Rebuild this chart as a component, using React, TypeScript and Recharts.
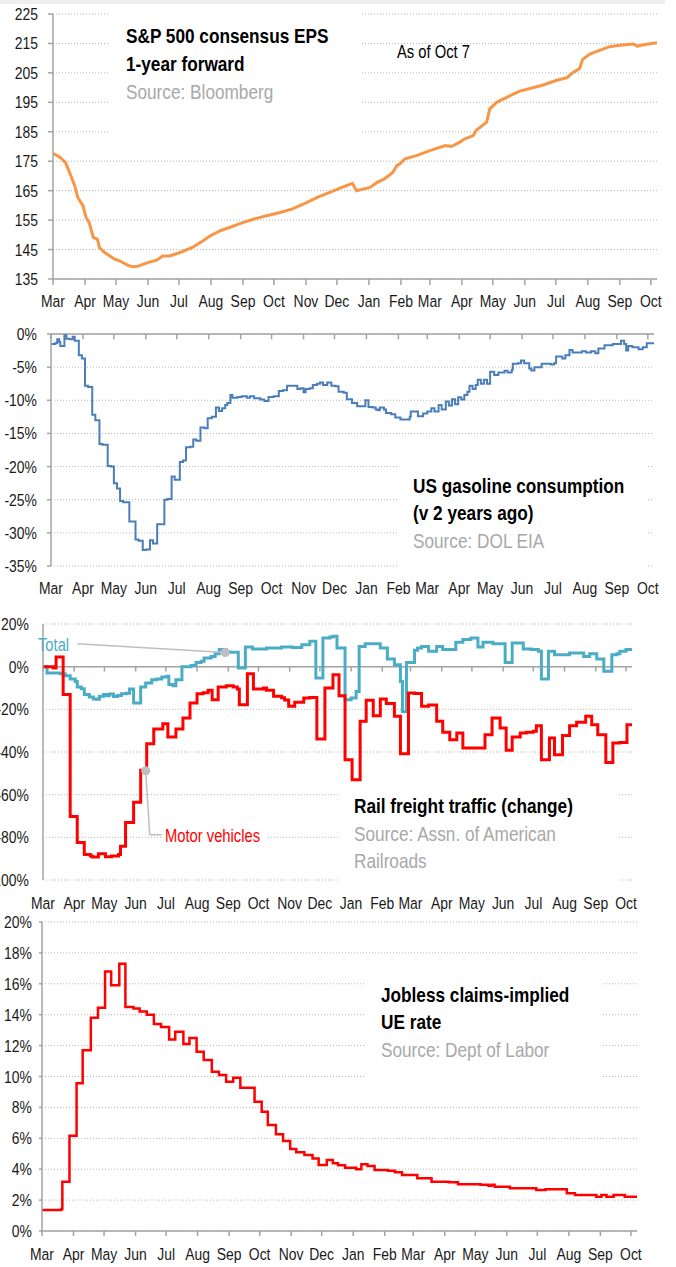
import React from 'react';
import { LineChart, Line, XAxis, YAxis, CartesianGrid, ReferenceLine, ReferenceDot } from 'recharts';

const FONT = "'Liberation Sans', Arial, sans-serif";
const SX = 0.82; // horizontal squeeze to mimic a narrow typeface
const AXIS = '#a3a3a3';
const GRID = '#b5b5b5';
const TXT = '#1a1a1a';
const SRC = '#a8a8a8';

// Month ticks: days since 1 Mar 2020
const monthTicks = [0, 31, 61, 92, 122, 153, 184, 214, 245, 275, 306, 337, 365, 396, 426, 457, 487, 518, 549, 579];
const monthLabels = ['Mar', 'Apr', 'May', 'Jun', 'Jul', 'Aug', 'Sep', 'Oct', 'Nov', 'Dec', 'Jan', 'Feb', 'Mar', 'Apr', 'May', 'Jun', 'Jul', 'Aug', 'Sep', 'Oct'];
const lastDay = 585;

// Panel 1: S&P 500 consensus EPS
const epsTicks = [135, 145, 155, 165, 175, 185, 195, 205, 215, 225];
const epsDays = [0, 7, 12, 16, 21, 24, 29, 32, 35, 39, 43, 45, 50, 55, 60, 65, 72, 77, 82, 91, 101, 106, 113, 123, 135, 145, 152, 162, 171, 181, 194, 207, 220, 232, 246, 256, 268, 278, 290, 294, 307, 314, 321, 329, 333, 336, 341, 352, 365, 380, 386, 394, 399, 407, 410, 420, 423, 430, 440, 452, 462, 474, 488, 498, 503, 510, 513, 520, 530, 539, 549, 562, 566, 575, 585];
const epsValues = [177.7, 176.3, 174.6, 171.2, 166.7, 162.7, 159.9, 155.9, 154.2, 149.1, 148.5, 145.7, 144.0, 142.8, 141.7, 141.1, 139.7, 139.2, 139.3, 140.5, 141.5, 142.8, 142.8, 144.0, 145.7, 147.9, 149.6, 151.4, 152.5, 153.8, 155.3, 156.5, 157.6, 158.8, 161.0, 162.7, 164.4, 165.9, 167.5, 165.0, 166.1, 167.8, 169.0, 171.2, 173.5, 174.1, 175.8, 176.9, 178.6, 180.3, 180.0, 181.5, 182.6, 183.7, 185.5, 188.3, 192.8, 195.1, 196.8, 198.8, 199.7, 200.8, 202.5, 203.4, 205.0, 206.5, 209.6, 211.4, 212.7, 213.9, 214.4, 214.8, 214.1, 214.7, 215.2];

// Panel 2: US gasoline consumption v 2 years ago (%)
const gasTicks = [-35, -30, -25, -20, -15, -10, -5, 0];
const gasDays = [0, 4, 6, 8, 9, 13, 15, 18, 21, 23, 27, 30, 33, 36, 40, 43, 47, 50, 55, 58, 61, 64, 67, 70, 76, 82, 85, 89, 92, 96, 99, 103, 110, 113, 117, 120, 125, 128, 131, 135, 138, 141, 145, 149, 152, 156, 160, 163, 166, 169, 171, 174, 176, 181, 185, 190, 193, 197, 203, 207, 211, 216, 221, 225, 229, 236, 239, 242, 245, 247, 251, 254, 258, 261, 264, 268, 272, 276, 279, 284, 287, 292, 297, 305, 308, 312, 315, 317, 319, 323, 325, 330, 334, 339, 348, 349, 356, 361, 365, 369, 372, 376, 379, 383, 386, 389, 392, 395, 398, 401, 404, 406, 409, 412, 414, 417, 420, 423, 426, 430, 434, 440, 443, 447, 448, 453, 456, 459, 464, 466, 469, 476, 485, 488, 490, 496, 499, 503, 506, 515, 519, 524, 528, 531, 537, 545, 553, 556, 558, 560, 564, 570, 574, 578, 585];
const gasValues = [-1.5, -1.4, -0.8, -1.2, -1.8, -0.2, -0.7, -0.8, -0.4, -1.0, -3.2, -3.7, -7.8, -8.0, -12.2, -13.0, -16.6, -16.7, -19.9, -20.0, -22.5, -23.3, -25.2, -25.4, -28.3, -31.0, -31.2, -32.6, -32.5, -31.1, -31.6, -28.7, -25.0, -24.9, -21.5, -22.0, -19.3, -19.1, -17.1, -17.0, -15.9, -16.1, -14.1, -14.2, -12.7, -12.5, -11.1, -11.6, -11.2, -10.7, -10.4, -9.2, -9.6, -9.5, -9.4, -9.6, -9.4, -9.7, -9.9, -10.1, -9.5, -9.4, -8.6, -8.5, -7.8, -7.8, -8.3, -8.2, -8.8, -8.3, -8.2, -7.7, -7.5, -7.3, -7.7, -7.3, -7.8, -7.9, -8.7, -8.85, -9.85, -10.4, -10.9, -10.0, -11.0, -11.1, -11.4, -11.5, -11.1, -11.4, -11.9, -12.1, -12.6, -12.9, -12.5, -11.7, -12.4, -12.0, -11.7, -11.2, -11.7, -10.7, -11.4, -10.2, -10.8, -9.85, -10.6, -9.55, -9.9, -9.2, -8.7, -7.8, -8.3, -7.7, -6.9, -7.5, -6.9, -7.5, -5.7, -6.2, -5.8, -5.55, -5.8, -5.4, -4.5, -4.4, -4.0, -4.4, -5.2, -5.5, -5.0, -4.5, -4.6, -4.4, -3.4, -3.7, -3.2, -2.4, -2.8, -2.6, -2.8, -2.6, -2.9, -2.2, -1.7, -1.5, -1.0, -1.5, -2.5, -1.8, -2.0, -2.3, -2.0, -1.4, -1.25];

// Panel 3: Rail freight traffic change (%)
const railTicks = [-100, -80, -60, -40, -20, 0, 20];
const totalDays = [0, 4, 17, 22, 27, 32, 34, 38, 41, 46, 50, 53, 56, 60, 63, 66, 70, 74, 78, 83, 86, 90, 97, 102, 108, 113, 118, 123, 125, 129, 132, 138, 147, 152, 157, 160, 167, 171, 175, 182, 185, 194, 201, 208, 222, 237, 248, 257, 265, 271, 278, 285, 288, 292, 300, 306, 311, 314, 320, 335, 342, 349, 355, 357, 361, 369, 372, 376, 383, 391, 397, 410, 417, 425, 432, 437, 447, 459, 466, 477, 485, 492, 495, 502, 508, 523, 537, 543, 550, 557, 565, 570, 573, 579, 585];
const totalValues = [0, -3.0, -3.3, -4.2, -5.8, -6.9, -9.5, -10.3, -13.1, -14.2, -15.2, -15.3, -13.9, -13.1, -13.6, -12.8, -14.0, -13.5, -12.7, -12.5, -10.5, -17.0, -9.5, -7.7, -6.1, -5.8, -4.8, -4.5, -8.4, -8.9, -6.1, 0, 0.5, 2.0, 2.5, 4.1, 4.8, 6.0, 8.0, 7.0, 6.7, -0.6, 9.2, 8.3, 8.7, 9.2, 9.0, 10.3, 11.9, -5.3, 13.4, 13.9, 14.2, 8.7, -15.5, -14.7, -11.6, 9.5, 10.8, 8.7, 3.6, 0.9, -6.9, -21.0, 2.0, 7.7, 8.7, 9.5, 7.2, 9.5, 8.0, 11.4, 12.7, 13.4, 9.2, 11.4, 10.8, 2.0, 11.1, 8.3, 8.0, 7.2, -5.8, 7.2, 5.6, 6.4, 4.8, 6.0, 3.6, -2.2, 5.6, 6.1, 7.2, 8.0, 8.0];
const motorDays = [0, 10, 13, 20, 27, 34, 41, 47, 49, 55, 62, 68, 75, 77, 82, 90, 97, 103, 110, 119, 124, 132, 139, 146, 153, 159, 164, 168, 174, 182, 189, 193, 195, 203, 209, 219, 222, 229, 237, 240, 244, 250, 259, 265, 272, 280, 288, 294, 300, 307, 315, 321, 328, 335, 341, 349, 355, 363, 369, 376, 383, 391, 397, 404, 411, 417, 439, 446, 454, 460, 466, 474, 480, 487, 490, 495, 503, 508, 516, 523, 530, 539, 545, 551, 559, 566, 573, 580, 585];
const motorValues = [0, -0.6, 4.5, -13.1, -70.2, -82.4, -88.1, -88.8, -89.2, -87.7, -89.1, -88.8, -88.1, -84.2, -73.0, -63.6, -48.6, -36.1, -29.2, -26.7, -33.0, -29.2, -24.1, -17.0, -12.7, -12.2, -11.1, -15.5, -9.5, -8.9, -9.5, -10.5, -17.8, -3.3, -10.5, -10.0, -11.1, -13.9, -14.6, -15.6, -18.6, -16.7, -14.7, -14.4, -33.9, -10.0, -3.8, -13.6, -43.6, -53.0, -25.6, -15.8, -23.0, -15.2, -17.3, -23.3, -40.8, -12.3, -12.6, -18.6, -18.0, -25.6, -30.8, -34.2, -31.1, -38.1, -31.9, -24.1, -28.7, -39.2, -33.0, -31.1, -30.8, -30.3, -27.7, -43.6, -33.4, -41.3, -32.3, -27.7, -26.1, -23.3, -27.2, -31.9, -44.9, -35.8, -35.5, -27.2, -27.2];

// Panel 4: Jobless claims-implied UE rate (%)
const ueTicks = [0, 2, 4, 6, 8, 10, 12, 14, 16, 18, 20];
const ueDays = [0, 19, 20, 27, 34, 40, 48, 55, 62, 68, 76, 82, 90, 96, 103, 110, 117, 125, 131, 139, 145, 152, 159, 167, 174, 181, 188, 195, 209, 216, 222, 230, 237, 244, 250, 258, 266, 272, 280, 286, 291, 298, 309, 314, 320, 327, 340, 347, 354, 369, 383, 400, 409, 431, 439, 442, 445, 460, 486, 495, 516, 524, 545, 550, 555, 562, 573, 585];
const ueValues = [1.36, 1.42, 3.19, 6.17, 9.56, 11.7, 13.8, 14.45, 16.8, 15.9, 17.3, 14.5, 14.4, 14.2, 14.0, 13.4, 13.2, 12.4, 12.9, 12.1, 12.5, 11.6, 11.07, 10.3, 10.1, 9.66, 9.92, 9.27, 8.37, 7.72, 6.86, 6.26, 5.83, 5.3, 5.09, 4.92, 4.7, 4.27, 4.6, 4.38, 4.25, 4.1, 4.0, 4.32, 4.2, 3.95, 3.9, 3.8, 3.62, 3.41, 3.19, 3.15, 3.02, 3.0, 2.93, 3.0, 2.87, 2.76, 2.65, 2.7, 2.44, 2.33, 2.22, 2.33, 2.22, 2.33, 2.22, 2.22];

const zip = (days: number[], vals: number[]) => days.map((d, i) => ({ day: d, v: vals[i] }));
const epsData = zip(epsDays, epsValues);
const gasData = zip(gasDays, gasValues);
const totalData = zip(totalDays, totalValues);
const motorData = zip(motorDays, motorValues);
const ueData = zip(ueDays, ueValues);

const fmtMonth = (v: number) => monthLabels[monthTicks.indexOf(v)] ?? '';
const fmtPct = (v: number) => `${v}%`;
const fmtPlain = (v: number) => `${v}`;
const axisLineStyle = { stroke: AXIS, strokeWidth: 1.5 };

function NarrowTick(props: any) {
  const { x, y, payload, textAnchor, verticalAnchor, fmt } = props;
  const dy = verticalAnchor === 'start' ? '0.71em' : verticalAnchor === 'end' ? '0' : '0.355em';
  return (
    <g transform={`translate(${x},${y}) scale(${SX},1)`}>
      <text textAnchor={textAnchor} dy={dy} fontSize={17} fontFamily={FONT} fill={TXT}>
        {fmt(payload.value)}
      </text>
    </g>
  );
}

const tickWith = (fmt: (v: number) => string) => (p: any) => <NarrowTick {...p} fmt={fmt} />;

function NText({ x, y, size = 21, bold = false, fill = '#000', children }: { x: number; y: number; size?: number; bold?: boolean; fill?: string; children: React.ReactNode }) {
  return (
    <text transform={`translate(${x},${y}) scale(${SX},1)`} fontSize={size} fontWeight={bold ? 'bold' : 'normal'} fill={fill} fontFamily={FONT}>
      {children}
    </text>
  );
}

const xCommon = {
  dataKey: 'day',
  type: 'number' as const,
  domain: [0, lastDay],
  ticks: monthTicks,
  interval: 0,
  tick: tickWith(fmtMonth),
  allowDataOverflow: true,
};

function Panel({ top, children }: { top: number; children: React.ReactNode }) {
  return <div style={{ position: 'absolute', left: 0, top }}>{children}</div>;
}

export default function App() {
  return (
    <div style={{ position: 'absolute', left: 0, top: 0, width: 676, height: 1267, background: '#fff', overflow: 'hidden', fontFamily: FONT }}>
      <div style={{ position: 'absolute', left: 0, top: 0, width: 665, height: 4, background: '#efefef' }} />

      {/* Panel 1 */}
      <Panel top={0}>
        <LineChart width={676} height={312} data={epsData} margin={{ top: 14, right: 19, bottom: 2, left: 0 }}>
          <CartesianGrid vertical={false} stroke={GRID} strokeDasharray="1 2" />
          <XAxis {...xCommon} height={31} tickSize={6} tickMargin={10} axisLine={axisLineStyle} tickLine={axisLineStyle} />
          <YAxis type="number" domain={[135, 225]} ticks={epsTicks} interval={0} width={53} tickSize={5} tickMargin={10} tick={tickWith(fmtPlain)} axisLine={axisLineStyle} tickLine={axisLineStyle} />
          <Line dataKey="v" type="linear" stroke="#F79646" strokeWidth={3} dot={false} isAnimationActive={false} />
        </LineChart>
      </Panel>

      {/* Panel 2 */}
      <Panel top={310}>
        <LineChart width={676} height={300} data={gasData} margin={{ top: 24, right: 22, bottom: 14, left: 0 }}>
          <CartesianGrid vertical={false} stroke={GRID} strokeDasharray="1 2" />
          <XAxis {...xCommon} height={30} tickSize={0} tickMargin={16} axisLine={false} tickLine={false} />
          <YAxis type="number" domain={[-35, 0]} ticks={gasTicks} interval={0} width={51} tickSize={4} tickMargin={10} tick={tickWith(fmtPct)} axisLine={axisLineStyle} tickLine={axisLineStyle} />
          <ReferenceLine y={0} stroke={AXIS} strokeWidth={1.5} />
          {monthTicks.map((t) => (
            <ReferenceLine key={t} segment={[{ x: t, y: 0 }, { x: t, y: -0.8 }]} stroke={AXIS} strokeWidth={1.5} />
          ))}
          <Line dataKey="v" type="stepAfter" stroke="#4A7EBB" strokeWidth={2} dot={false} isAnimationActive={false} />
        </LineChart>
      </Panel>

      {/* Panel 3 */}
      <Panel top={610}>
        <LineChart width={676} height={306} margin={{ top: 14, right: 44, bottom: 6, left: 0 }}>
          <CartesianGrid vertical={false} stroke={GRID} strokeDasharray="1 2" />
          <XAxis {...xCommon} height={30} tickSize={0} tickMargin={17} axisLine={false} tickLine={false} />
          <YAxis type="number" domain={[-100, 20]} ticks={railTicks} interval={0} width={43} tickSize={0} tickMargin={14} tick={tickWith(fmtPct)} axisLine={axisLineStyle} tickLine={false} />
          <ReferenceLine y={0} stroke={AXIS} strokeWidth={1.5} />
          {monthTicks.map((t) => (
            <ReferenceLine key={t} segment={[{ x: t, y: 0 }, { x: t, y: -2.3 }]} stroke={AXIS} strokeWidth={1.5} />
          ))}
          <Line data={totalData} dataKey="v" type="stepAfter" stroke="#4BACC6" strokeWidth={3} dot={false} isAnimationActive={false} />
          <Line data={motorData} dataKey="v" type="stepAfter" stroke="#FF0000" strokeWidth={3} dot={false} isAnimationActive={false} />
          <ReferenceLine segment={[{ x: 34, y: 10.8 }, { x: 181, y: 6.6 }]} stroke="#bfbfbf" strokeWidth={1.5} />
          <ReferenceDot x={181} y={6.6} r={4.5} fill="#bfbfbf" stroke="none" />
          <ReferenceLine segment={[{ x: 102, y: -48.8 }, { x: 106, y: -78.8 }]} stroke="#bfbfbf" strokeWidth={1.5} />
          <ReferenceLine segment={[{ x: 106, y: -78.8 }, { x: 118, y: -78.8 }]} stroke="#bfbfbf" strokeWidth={1.5} />
          <ReferenceDot x={102} y={-48.8} r={4.5} fill="#bfbfbf" stroke="none" />
        </LineChart>
      </Panel>

      {/* Panel 4 */}
      <Panel top={910}>
        <LineChart width={676} height={357} data={ueData} margin={{ top: 12, right: 39, bottom: 0, left: 0 }}>
          <CartesianGrid vertical={false} stroke={GRID} strokeDasharray="1 2" />
          <XAxis {...xCommon} height={36} tickSize={5} tickMargin={12} axisLine={axisLineStyle} tickLine={axisLineStyle} />
          <YAxis type="number" domain={[0, 20]} ticks={ueTicks} interval={0} width={42} tickSize={3} tickMargin={7} tick={tickWith(fmtPct)} axisLine={axisLineStyle} tickLine={axisLineStyle} />
          <Line dataKey="v" type="stepAfter" stroke="#FF0000" strokeWidth={2.5} dot={false} isAnimationActive={false} />
        </LineChart>
      </Panel>

      {/* Titles and annotations */}
      <svg width={676} height={1267} style={{ position: 'absolute', left: 0, top: 0, pointerEvents: 'none' }}>
        <rect x={110} y={8} width={252} height={137} fill="#fff" />
        <NText x={126} y={43} bold>S&amp;P 500 consensus EPS</NText>
        <NText x={126} y={71} bold>1-year forward</NText>
        <NText x={126} y={99} fill={SRC}>Source: Bloomberg</NText>
        <NText x={397} y={58} size={18}>As of Oct 7</NText>

        <rect x={397} y={445} width={250} height={128} fill="#fff" />
        <NText x={413} y={493} bold>US gasoline consumption</NText>
        <NText x={413} y={520} bold>(v 2 years ago)</NText>
        <NText x={413} y={548} fill={SRC}>Source: DOL EIA</NText>

        <rect x={340} y={785} width={277} height={102} fill="#fff" />
        <NText x={354} y={813} bold>Rail freight traffic (change)</NText>
        <NText x={354} y={841} fill={SRC}>Source: Assn. of American</NText>
        <NText x={354} y={868} fill={SRC}>Railroads</NText>
        <NText x={38} y={651} size={18} fill="#4BACC6">Total</NText>
        <rect x={163} y={826} width={105} height={20} fill="#fff" />
        <NText x={165} y={842} size={18} fill="#FF0000">Motor vehicles</NText>

        <rect x={365} y={965} width={238} height={125} fill="#fff" />
        <NText x={381} y={1002} bold>Jobless claims-implied</NText>
        <NText x={381} y={1029} bold>UE rate</NText>
        <NText x={381} y={1057} fill={SRC}>Source: Dept of Labor</NText>
      </svg>
    </div>
  );
}
